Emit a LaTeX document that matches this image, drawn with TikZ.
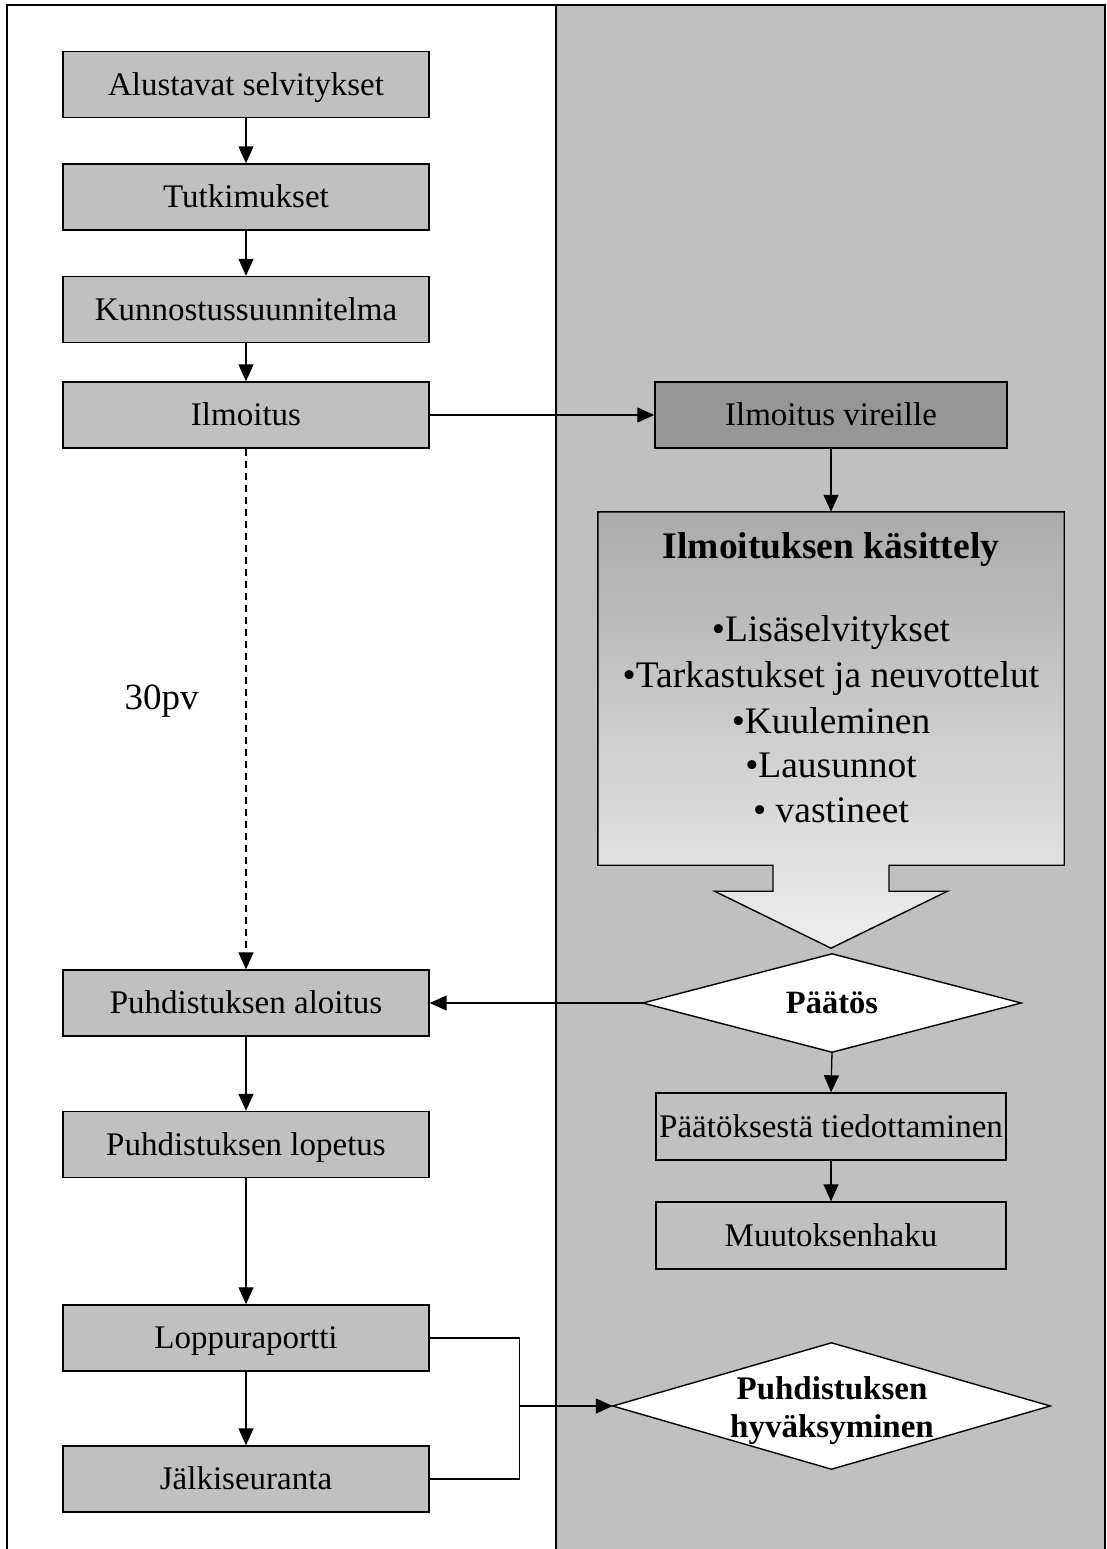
\documentclass[tikz,border=0pt]{standalone}
\usepackage{fontspec}
\setmainfont{Liberation Serif}
\usetikzlibrary{arrows.meta,backgrounds}
\definecolor{panelgray}{HTML}{C0C0C0}
\definecolor{boxgray}{HTML}{C0C0C0}
\definecolor{darkbox}{HTML}{969696}
\definecolor{gradtop}{HTML}{ABABAB}
\definecolor{gradbot}{HTML}{EEEEEE}
\tikzset{
  lbox/.style={draw, fill=boxgray, line width=1.4pt, minimum width=366pt, minimum height=66pt, inner sep=0pt, font=\fontsize{33}{40}\selectfont, text height=21.8pt, text depth=0pt},
  rbox/.style={lbox, minimum width=350pt, minimum height=67pt},
  conn/.style={line width=1.3pt, -{Triangle[length=17pt,width=15pt]}},
  plainline/.style={line width=1.3pt},
  bigtext/.style={font=\fontsize{37.5}{45}\selectfont, anchor=base, inner sep=0pt},
  framestyle/.style={line width=2pt},
}
\begin{document}
\begin{tikzpicture}[x=1pt,y=-1pt]
\useasboundingbox (0,0) rectangle (1106,1549);
\begin{scope}[on background layer]
  \fill[panelgray] (556,5) rectangle (1105,1560);
\end{scope}
\draw[framestyle] (7,1560) -- (7,5) -- (1105,5) -- (1105,1560);
\draw[framestyle] (556,5) -- (556,1560);

% left column
\node[lbox] (als) at (246,84.5) {Alustavat selvitykset};
\node[lbox] (tut) at (246,197) {Tutkimukset};
\node[lbox] (kun) at (246,309.5) {Kunnostussuunnitelma};
\node[lbox] (ilm) at (246,415) {Ilmoitus};
\node[lbox] (alo) at (246,1003) {Puhdistuksen aloitus};
\node[lbox] (lop) at (246,1144.5) {Puhdistuksen lopetus};
\node[lbox] (lra) at (246,1338) {Loppuraportti};
\node[lbox] (jal) at (246,1479) {Jälkiseuranta};
\node[font=\fontsize{37}{44}\selectfont, anchor=base, inner sep=0pt] (d30) at (161.5,709) {30pv};

% right column
\node[rbox, fill=darkbox, minimum width=352pt, minimum height=66pt] (vir) at (831,415) {Ilmoitus vireille};
\node[minimum width=466pt, minimum height=353pt, inner sep=0pt] (kas) at (831,688.5) {};
\node[bigtext, font=\bfseries\fontsize{37.5}{45}\selectfont] (kt) at (831,558) {Ilmoituksen käsittely};
\node[bigtext] (b1) at (831,641.7) {•Lisäselvitykset};
\node[bigtext] (b2) at (831,687.3) {•Tarkastukset ja neuvottelut};
\node[bigtext] (b3) at (831,733.3) {•Kuuleminen};
\node[bigtext] (b4) at (831,777.7) {•Lausunnot};
\node[bigtext] (b5) at (831,822.3) {• vastineet};
\node[minimum width=378pt, minimum height=98pt, inner sep=0pt, font=\bfseries\fontsize{32.5}{38}\selectfont, text height=21.5pt, text depth=0pt] (pat) at (832,1003) {Päätös};
\node[rbox] (tie) at (831,1126.5) {Päätöksestä tiedottaminen};
\node[rbox] (muu) at (831,1235.5) {Muutoksenhaku};
\node[minimum width=437pt, minimum height=126pt, inner sep=0pt] (hyv) at (831.5,1406) {};
\node[align=center, inner sep=0pt, font=\bfseries\fontsize{33}{38}\selectfont] (hyvt) at (832,1411) {Puhdistuksen\\hyväksyminen};

\begin{scope}[on background layer]
  \path[draw, line width=1.4pt, top color=gradtop, bottom color=gradbot]
    (kas.north west) -- (kas.north east) -- (kas.south east)
    -- ([xshift=58pt]kas.south) -- ([xshift=58pt,yshift=-26pt]kas.south)
    -- ([xshift=116.5pt,yshift=-26pt]kas.south) -- ([yshift=-83pt]kas.south)
    -- ([xshift=-116.5pt,yshift=-26pt]kas.south) -- ([xshift=-58pt,yshift=-26pt]kas.south)
    -- ([xshift=-58pt]kas.south) -- (kas.south west) -- cycle;
  \path[draw, fill=white, line width=1.4pt] (pat.north) -- (pat.east) -- (pat.south) -- (pat.west) -- cycle;
  \path[draw, fill=white, line width=1.4pt] (hyv.north) -- (hyv.east) -- (hyv.south) -- (hyv.west) -- cycle;
\end{scope}

% connectors
\draw[conn] (als) -- (tut);
\draw[conn] (tut) -- (kun);
\draw[conn] (kun) -- (ilm);
\draw[conn] (ilm.east) -- (vir.west);
\draw[conn, dash pattern=on 7pt off 5pt] (ilm.south) -- (alo.north);
\draw[conn] (vir.south) -- (kas.north);
\draw[conn] (pat.west) -- (alo.east);
\draw[conn] (pat.south) -- (tie.north);
\draw[conn] (tie) -- (muu);
\draw[conn] (alo) -- (lop);
\draw[conn] (lop) -- (lra);
\draw[conn] (lra) -- (jal);
\path (hyv.west) ++(-93,0) coordinate (j);
\draw[plainline] (lra.east) -| (j);
\draw[plainline] (jal.east) -| (j);
\draw[conn] (j) -- (hyv.west);
\end{tikzpicture}
\end{document}
